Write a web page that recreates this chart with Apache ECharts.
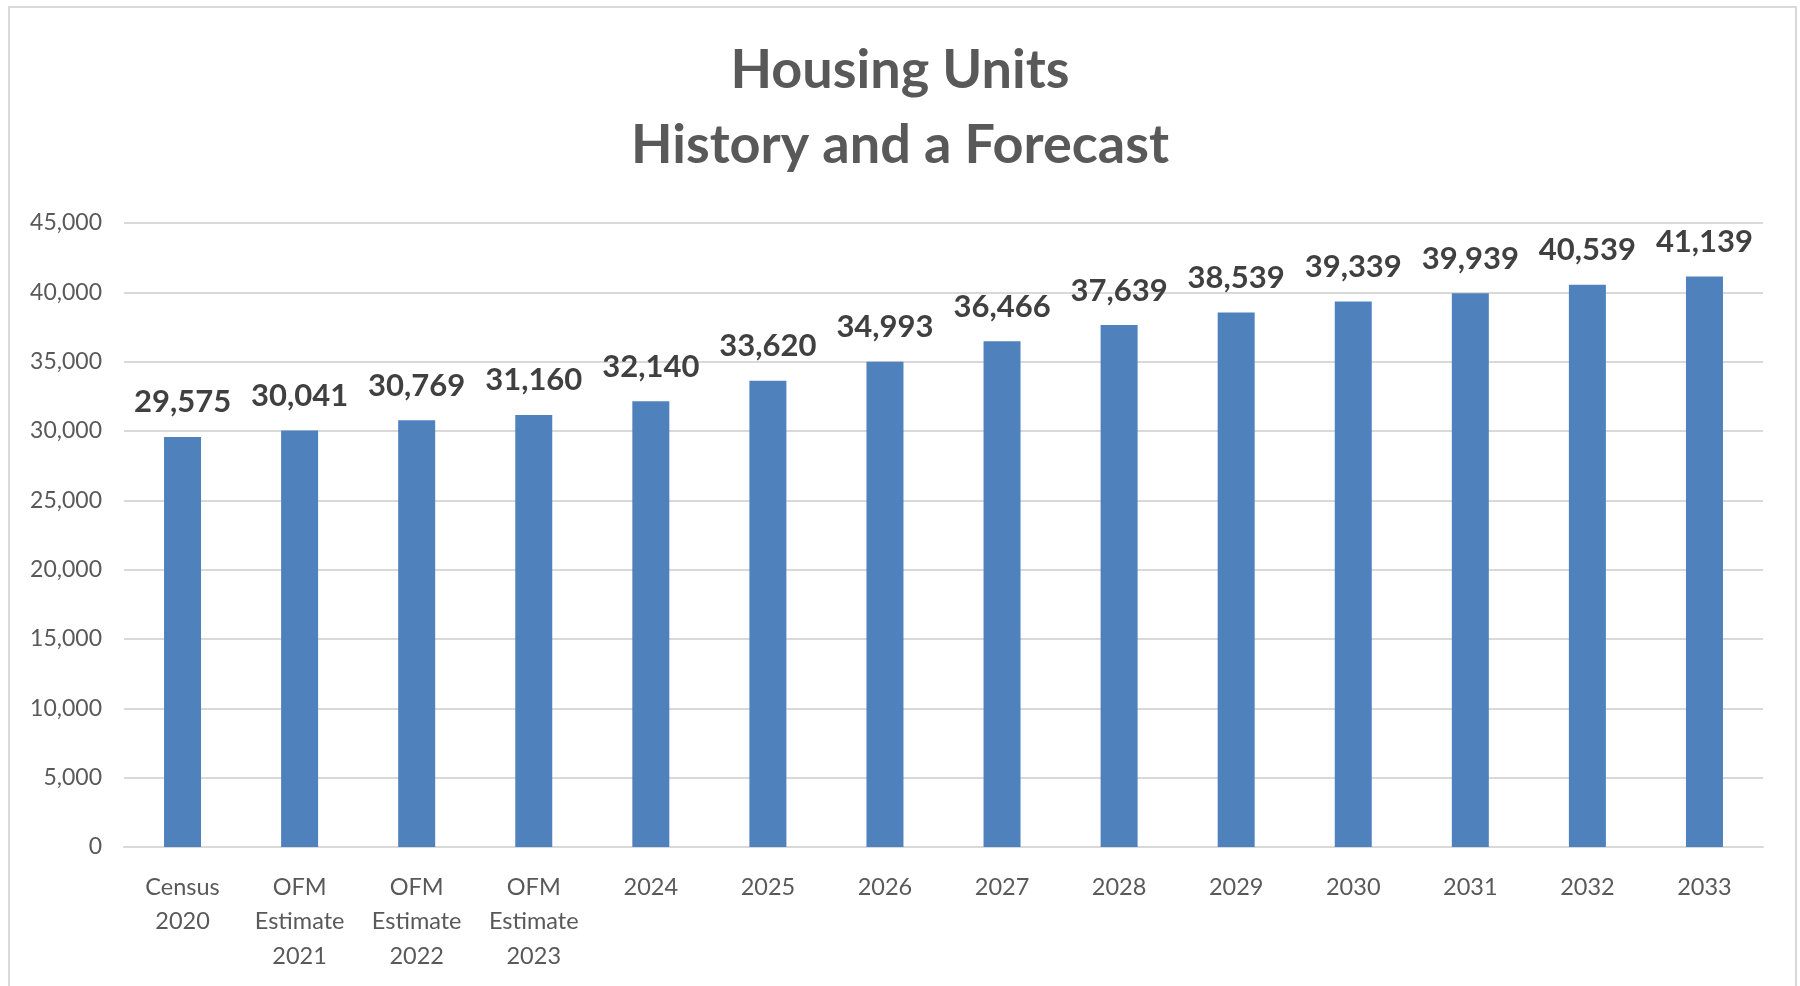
<!DOCTYPE html>
<html>
<head>
<meta charset="utf-8">
<script src="https://cdn.jsdelivr.net/npm/echarts@6/dist/echarts.min.js"></script>
<style>
html,body{margin:0;padding:0;background:#fff;}
#chart{width:1800px;height:986px;}
</style>
</head>
<body>
<div id="chart"></div>
<script>
const categories = ['Census\n2020','OFM\nEstimate\n2021','OFM\nEstimate\n2022','OFM\nEstimate\n2023','2024','2025','2026','2027','2028','2029','2030','2031','2032','2033'];
const housingUnits = [29575,30041,30769,31160,32140,33620,34993,36466,37639,38539,39339,39939,40539,41139];
const titleLines = ['Housing Units','History and a Forecast'];

const fmt = v => Number(v).toLocaleString('en-US');
const chart = echarts.init(document.getElementById('chart'));
chart.setOption({
  backgroundColor:'#ffffff',
  animation:false,
  graphic:[{type:'rect',shape:{x:9,y:7,width:1787,height:1000},style:{fill:'none',stroke:'#d9d9d9',lineWidth:2},silent:true}],
  title:{
    text:titleLines.join('\n'),
    left:'center',
    top:28,
    textStyle:{fontFamily:'Lato',fontWeight:'bold',fontSize:54,lineHeight:75,color:'#595959'}
  },
  grid:{left:124,right:37,top:223,bottom:139,containLabel:false},
  xAxis:{
    type:'category',
    data:categories,
    axisLine:{show:true,lineStyle:{color:'#d9d9d9',width:2}},
    axisTick:{show:false},
    axisLabel:{interval:0,margin:23,fontFamily:'Lato',fontSize:23.5,lineHeight:34.5,color:'#595959'}
  },
  yAxis:{
    type:'value',
    min:0,max:45000,interval:5000,
    axisLine:{show:false},
    axisTick:{show:false},
    splitLine:{lineStyle:{color:'#d9d9d9',width:2}},
    axisLabel:{margin:22,fontFamily:'Lato',fontSize:23,color:'#595959',formatter:fmt}
  },
  series:[{
    type:'bar',
    data:housingUnits,
    barWidth:37,
    itemStyle:{color:'#4f81bd'},
    label:{show:true,position:'top',distance:19,fontFamily:'Lato',fontWeight:'bold',fontSize:31,color:'#404040',formatter:p=>fmt(p.value)}
  }]
});
</script>
</body>
</html>
